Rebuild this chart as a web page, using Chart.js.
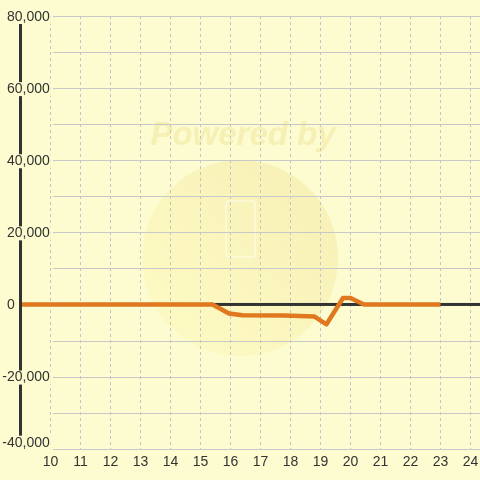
<!DOCTYPE html>
<html><head><meta charset="utf-8">
<script src="https://cdn.jsdelivr.net/npm/chart.js@4/dist/chart.umd.min.js"></script>
<style>html,body{margin:0;padding:0;background:#fcfcd0;}#wrap{width:480px;height:480px;}</style>
</head><body><div id="wrap"><canvas id="c" width="480" height="480"></canvas></div>
<script>
// data
const xValues = [9, 15.4, 15.95, 16.4, 17.8, 18.8, 19.2, 19.75, 20.0, 20.45, 23];
const yValues = [0, 0, -2500, -3000, -3050, -3350, -5500, 1800, 1800, 0, 0];
const xTickValues = [10, 11, 12, 13, 14, 15, 16, 17, 18, 19, 20, 21, 22, 23, 24];
const yGridValues = [-40000, -30000, -20000, -10000, 0, 10000, 20000, 30000, 40000, 50000, 60000, 70000, 80000];
const yLabelValues = [-40000, -20000, 0, 20000, 40000, 60000, 80000];

const BG = '#fcfcd0';
const FONT = "'Liberation Sans', Arial, sans-serif";

const decor = {
  id: 'decor',
  beforeDraw(chart) {
    const ctx = chart.ctx;
    ctx.save();
    ctx.fillStyle = BG;
    ctx.fillRect(0, 0, chart.width, chart.height);
    const g = ctx.createLinearGradient(160, 340, 330, 170);
    g.addColorStop(0, 'rgba(255,245,170,0.35)');
    g.addColorStop(1, 'rgba(240,225,150,0.45)');
    ctx.fillStyle = g;
    ctx.beginPath();
    ctx.arc(240, 258, 98, 0, Math.PI * 2);
    ctx.fill();
    ctx.strokeStyle = 'rgba(255,255,240,0.6)';
    ctx.lineWidth = 1.5;
    ctx.beginPath();
    ctx.roundRect(226, 201, 29, 56, 3);
    ctx.stroke();
    ctx.font = "italic bold 33px " + FONT;
    ctx.fillStyle = 'rgba(235,210,110,0.28)';
    ctx.textAlign = 'center';
    ctx.textBaseline = 'middle';
    ctx.fillText('Powered by', 243, 136);
    ctx.restore();
  },
  beforeDatasetsDraw(chart) {
    const ctx = chart.ctx, y = chart.scales.y, a = chart.chartArea;
    ctx.save();
    ctx.strokeStyle = '#c8c8c8';
    ctx.lineWidth = 1;
    yGridValues.forEach(v => {
      const py = Math.round(y.getPixelForValue(v)) + 0.5;
      ctx.beginPath();
      ctx.moveTo(53, py);
      ctx.lineTo(a.right, py);
      ctx.stroke();
    });
    const z = y.getPixelForValue(0);
    ctx.fillStyle = '#333333';
    ctx.fillRect(a.left, z - 1.5, a.right - a.left, 3);
    ctx.restore();
  },
  afterDatasetsDraw(chart) {
    const ctx = chart.ctx, y = chart.scales.y, a = chart.chartArea;
    ctx.save();
    ctx.fillStyle = '#333333';
    ctx.fillRect(a.left - 1.5, a.top, 3, a.bottom - a.top);
    ctx.font = "14px " + FONT;
    ctx.textBaseline = 'middle';
    ctx.textAlign = 'left';
    const minusW = ctx.measureText('-').width;
    yLabelValues.forEach(v => {
      const txt = v.toLocaleString('en-US');
      const w = ctx.measureText(txt).width;
      const x = v < 0 ? 7 - minusW : 7;
      const py = Math.min(y.getPixelForValue(v) + 1, a.bottom - 6);
      ctx.fillStyle = BG;
      ctx.fillRect(x - 1, py - 7, w + 2, 14);
      ctx.fillStyle = '#333333';
      ctx.fillText(txt, x, py);
    });
    ctx.restore();
  }
};

new Chart(document.getElementById('c'), {
  type: 'line',
  data: {
    datasets: [{
      data: xValues.map((x, i) => ({ x: x, y: yValues[i] })),
      borderColor: '#e0781f',
      borderWidth: 4.5,
      pointRadius: 0,
      tension: 0,
      fill: false,
      borderJoinStyle: 'round',
      borderCapStyle: 'butt'
    }]
  },
  options: {
    responsive: false,
    animation: false,
    devicePixelRatio: 1,
    layout: { padding: { left: 20.5, top: 16, right: 0, bottom: 4.5 } },
    plugins: { legend: { display: false }, tooltip: { enabled: false } },
    scales: {
      x: {
        type: 'linear',
        min: 9,
        max: 24 + 9.5 / 30,
        afterBuildTicks: s => { s.ticks = xTickValues.map(v => ({ value: v })); },
        afterFit: s => { s.paddingLeft = 0; s.paddingRight = 0; },
        ticks: { color: '#333333', font: { size: 14, family: FONT }, padding: 5, maxRotation: 0, autoSkip: false },
        grid: { color: '#c4c4c4', drawTicks: false, lineWidth: 1 },
        border: { display: false, dash: [3, 3] }
      },
      y: {
        type: 'linear',
        display: false,
        min: -40000,
        max: 80000
      }
    }
  },
  plugins: [decor]
});
</script>
</body></html>
